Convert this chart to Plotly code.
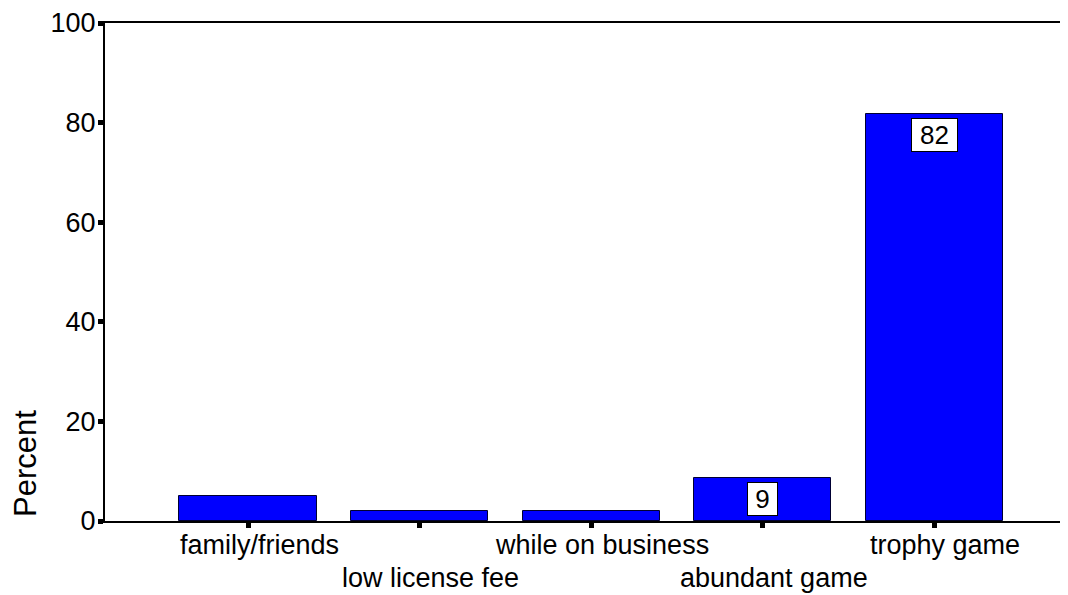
import plotly.graph_objects as go

# reasons for hunting (percent of respondents)
categories = ['family/friends', 'low license fee', 'while on business',
              'abundant game', 'trophy game']
percent = [5.0, 2.1, 2.1, 8.6, 81.7]
label_rows = [0, 1, 0, 1, 0]       # staggered x labels
labelled = {'abundant game': '9', 'trophy game': '82'}
y_ticks = [0, 20, 40, 60, 80, 100]

FONT = 'Arial, Liberation Sans, sans-serif'

fig = go.Figure()
fig.add_trace(go.Bar(
    x=categories, y=percent, width=0.8,
    marker=dict(color='#0000FF', line=dict(color='#000033', width=1)),
))

# value boxes inside the bars
for cat, txt in labelled.items():
    val = percent[categories.index(cat)]
    fig.add_annotation(
        x=cat, y=val, xref='x', yref='y', text=txt, showarrow=False,
        yanchor='top', yshift=-4, font=dict(family=FONT, size=26, color='black'),
        bgcolor='white', bordercolor='black', borderwidth=1, borderpad=0,
        width=13 + 16 * len(txt), height=32,
    )

# staggered category labels
for cat, row in zip(categories, label_rows):
    fig.add_annotation(
        x=cat, y=0, xref='x', yref='paper', text=cat, showarrow=False,
        yanchor='middle', yshift=-24 - 33 * row, xshift=11,
        font=dict(family=FONT, size=27, color='black'),
    )

fig.add_annotation(
    x=0, y=0, xref='paper', yref='paper', text='Percent', showarrow=False,
    textangle=-90, xanchor='center', yanchor='middle', xshift=-80, yshift=57,
    font=dict(family=FONT, size=31, color='black'),
)

fig.update_xaxes(
    range=[-0.834, 4.78], showticklabels=False, ticks='outside', ticklen=5,
    tickwidth=5, tickcolor='black', showline=True, linecolor='black',
    linewidth=2, mirror=True, showgrid=False, zeroline=False,
)
fig.update_yaxes(
    range=[0, 100], tickvals=y_ticks, ticks='outside', ticklen=5, tickwidth=5,
    tickcolor='black', showline=True, linecolor='black', linewidth=2,
    showgrid=False, zeroline=False, ticklabelstandoff=-3,
    ticklabeloverflow='allow',
    tickfont=dict(family=FONT, size=27, color='black'),
)
# page has an 8px body margin, so the figure is 8px smaller on each axis
fig.update_layout(
    width=1060, height=587, showlegend=False, bargap=0,
    margin=dict(l=97, r=0, t=11, b=74),
    plot_bgcolor='white', paper_bgcolor='white',
)

fig.write_html("out.html")
